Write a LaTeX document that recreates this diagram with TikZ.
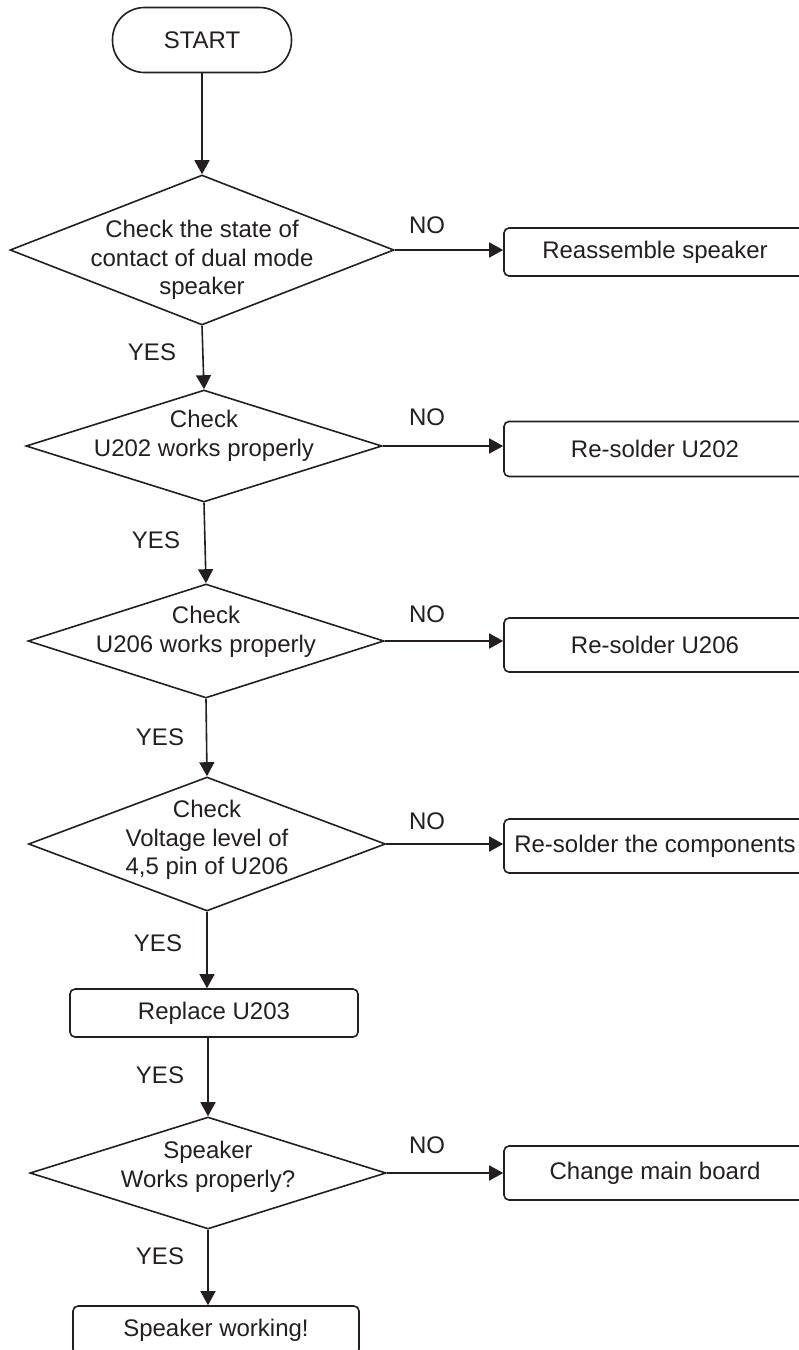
\documentclass[tikz,border=0pt]{standalone}
\usepackage{fontspec}
\setmainfont{Liberation Sans}
\usetikzlibrary{shapes.geometric,arrows.meta}
\definecolor{ink}{HTML}{231F20}
\begin{document}
\begin{tikzpicture}[x=1pt,y=-1pt,
  every node/.style={font=\fontsize{24}{28.5}\selectfont, text=ink},
  lnstyle/.style={draw=ink, line width=1.6pt},
  dia/.style={lnstyle, shape=diamond, inner sep=0pt},
  stepbox/.style={lnstyle, rectangle, rounded corners=5pt, inner sep=0pt},
  term/.style={lnstyle, rectangle, rounded corners=32pt, minimum width=179pt, minimum height=65pt},
  txt/.style={align=center, inner sep=0pt},
  lbl/.style={inner sep=0pt},
  arr/.style={draw=ink, line width=1.6pt, -{Triangle[length=14pt,width=15pt]}}
]
\useasboundingbox (0,0) rectangle (799,1350);
\clip (0,0) rectangle (799,1350);

\node[term] (start) at (202,40) {START};

\node[dia, minimum width=384pt, minimum height=150pt] (d1) at (202,250) {};
\node[txt] (d1t) at (202,260) {Check the state of\\contact of dual mode\\speaker};

\node[dia, minimum width=356pt, minimum height=112pt] (d2) at (204,446) {};
\node[txt] (d2t) at (204,436) {Check\\U202 works properly};

\node[dia, minimum width=356pt, minimum height=114pt] (d3) at (206,641) {};
\node[txt] (d3t) at (206,632) {Check\\U206 works properly};

\node[dia, minimum width=357pt, minimum height=134pt] (d4) at (207,844) {};
\node[txt] (d4t) at (207,840) {Check\\Voltage level of\\4,5 pin of U206};

\node[stepbox, minimum width=288pt, minimum height=48pt] (r) at (214,1013) {Replace U203};

\node[dia, minimum width=356pt, minimum height=112pt] (d5) at (208,1173) {};
\node[txt] (d5t) at (208,1167) {Speaker\\Works properly?};

\node[stepbox, minimum width=286pt, minimum height=48pt] (fin) at (216,1330) {Speaker working!};

\node[stepbox, minimum width=302pt, minimum height=48pt] (b1) at (655,252) {Reassemble speaker};
\node[stepbox, minimum width=302pt, minimum height=55pt] (b2) at (655,449) {Re-solder U202};
\node[stepbox, minimum width=302pt, minimum height=54pt] (b3) at (655,645) {Re-solder U206};
\node[stepbox, minimum width=302pt, minimum height=54pt] (b4) at (655,846) {Re-solder the components};
\node[stepbox, minimum width=302pt, minimum height=54pt] (b5) at (655,1173) {Change main board};

% vertical flow
\draw[arr] (start.south) -- (d1.north);
\draw[arr] (d1.south) -- (d2.north);
\draw[arr] (d2.south) -- (d3.north);
\draw[arr] (d3.south) -- (d4.north);
\draw[arr] (d4.south) -- (d4.south |- r.north);
\draw[arr] (d5.north |- r.south) -- (d5.north);
\draw[arr] (d5.south) -- (d5.south |- fin.north);

% NO branches
\draw[arr] (d1.east) -- (d1.east -| b1.west);
\draw[arr] (d2.east) -- (d2.east -| b2.west);
\draw[arr] (d3.east) -- (d3.east -| b3.west);
\draw[arr] (d4.east) -- (d4.east -| b4.west);
\draw[arr] (d5.east) -- (d5.east -| b5.west);

\node[lbl] (no1) at (427,225) {NO};
\node[lbl] (no2) at (427,417) {NO};
\node[lbl] (no3) at (427,614) {NO};
\node[lbl] (no4) at (427,821) {NO};
\node[lbl] (no5) at (427,1145) {NO};

\node[lbl] (yes1) at (152,352) {YES};
\node[lbl] (yes2) at (156,540) {YES};
\node[lbl] (yes3) at (160,737) {YES};
\node[lbl] (yes4) at (158,943) {YES};
\node[lbl] (yes5) at (160,1075) {YES};
\node[lbl] (yes6) at (160,1256) {YES};
\end{tikzpicture}
\end{document}
